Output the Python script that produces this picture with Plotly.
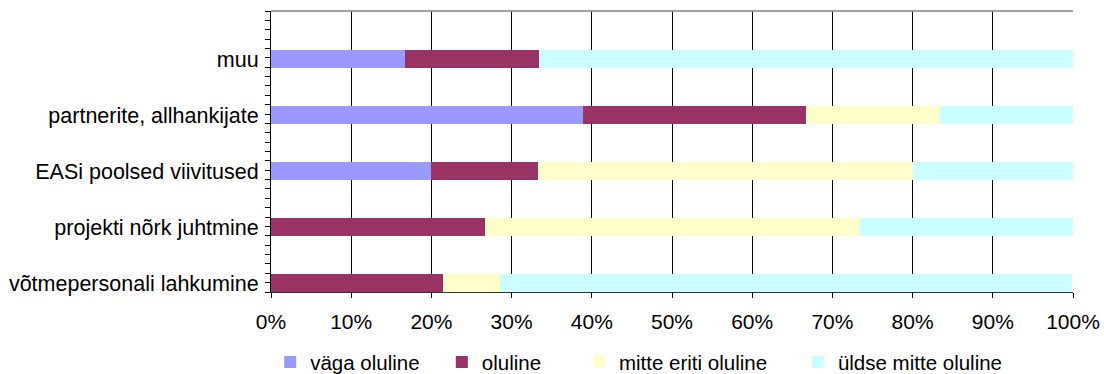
import plotly.graph_objects as go

categories = ["võtmepersonali lahkumine", "projekti nõrk juhtmine", "EASi poolsed viivitused",
              "partnerite, allhankijate", "muu"]
series_names = ["väga oluline", "oluline", "mitte eriti oluline", "üldse mitte oluline"]
vaga_oluline = [0.0, 0.0, 0.200, 0.389, 0.167]
oluline = [0.214, 0.267, 0.133, 0.278, 0.167]
mitte_eriti = [0.071, 0.467, 0.467, 0.167, 0.0]
uldse_mitte = [0.714, 0.267, 0.200, 0.167, 0.667]
colors = ["#9999FF", "#993366", "#FFFFCC", "#CCFFFF"]
x_ticks = [0, 0.1, 0.2, 0.3, 0.4, 0.5, 0.6, 0.7, 0.8, 0.9, 1.0]

FONT = "Liberation Sans, Arial, sans-serif"
ypos = list(range(len(categories)))
legend_ids = ["legend", "legend2", "legend3", "legend4"]
legend_x = [-0.001, 0.213, 0.384, 0.657]

fig = go.Figure()
for name, vals, col, lid in zip(series_names, [vaga_oluline, oluline, mitte_eriti, uldse_mitte],
                                colors, legend_ids):
    fig.add_trace(go.Bar(y=ypos, x=vals, orientation="h", name=name, legend=lid,
                         marker=dict(color=col, line=dict(width=0)), width=0.32))

y0, y1 = -0.1607, 4.857
minor_vals = [y0 + i * (y1 - y0) / 30 for i in range(31)]

legend_common = dict(orientation="h", xanchor="left", y=-0.25, yanchor="middle",
                     font=dict(size=20.5), itemwidth=30, bgcolor="rgba(0,0,0,0)")

fig.update_layout(
    barmode="stack",
    width=1104, height=374,
    margin=dict(l=271, r=31, t=11, b=82, autoexpand=False),
    paper_bgcolor="white", plot_bgcolor="white",
    font=dict(family=FONT, size=21, color="black"),
    bargap=0,
    xaxis=dict(range=[0, 1], tickvals=x_ticks, tickformat=".0%",
               showgrid=True, gridcolor="black", gridwidth=1,
               showline=True, linecolor="#333333", linewidth=1,
               ticks="outside", ticklen=5, tickcolor="black",
               ticklabelstandoff=6,
               zeroline=False, fixedrange=True, automargin=False),
    yaxis=dict(range=[y0, y1], tickvals=ypos, ticktext=categories,
               showgrid=False, zeroline=False, automargin=False,
               tickfont=dict(size=21.5),
               showline=True, linecolor="black", linewidth=1,
               ticks="", ticklabelstandoff=7,
               minor=dict(tickmode="array", tickvals=minor_vals, ticks="outside",
                          ticklen=5, tickcolor="black", showgrid=False)),
    showlegend=True,
)
for lid, lx in zip(legend_ids, legend_x):
    fig.update_layout({lid: dict(x=lx, **legend_common)})

fig.add_shape(type="line", xref="paper", yref="paper", x0=0, x1=1, y0=1, y1=1,
              line=dict(color="#808080", width=1.5))

fig.write_html("out.html")
